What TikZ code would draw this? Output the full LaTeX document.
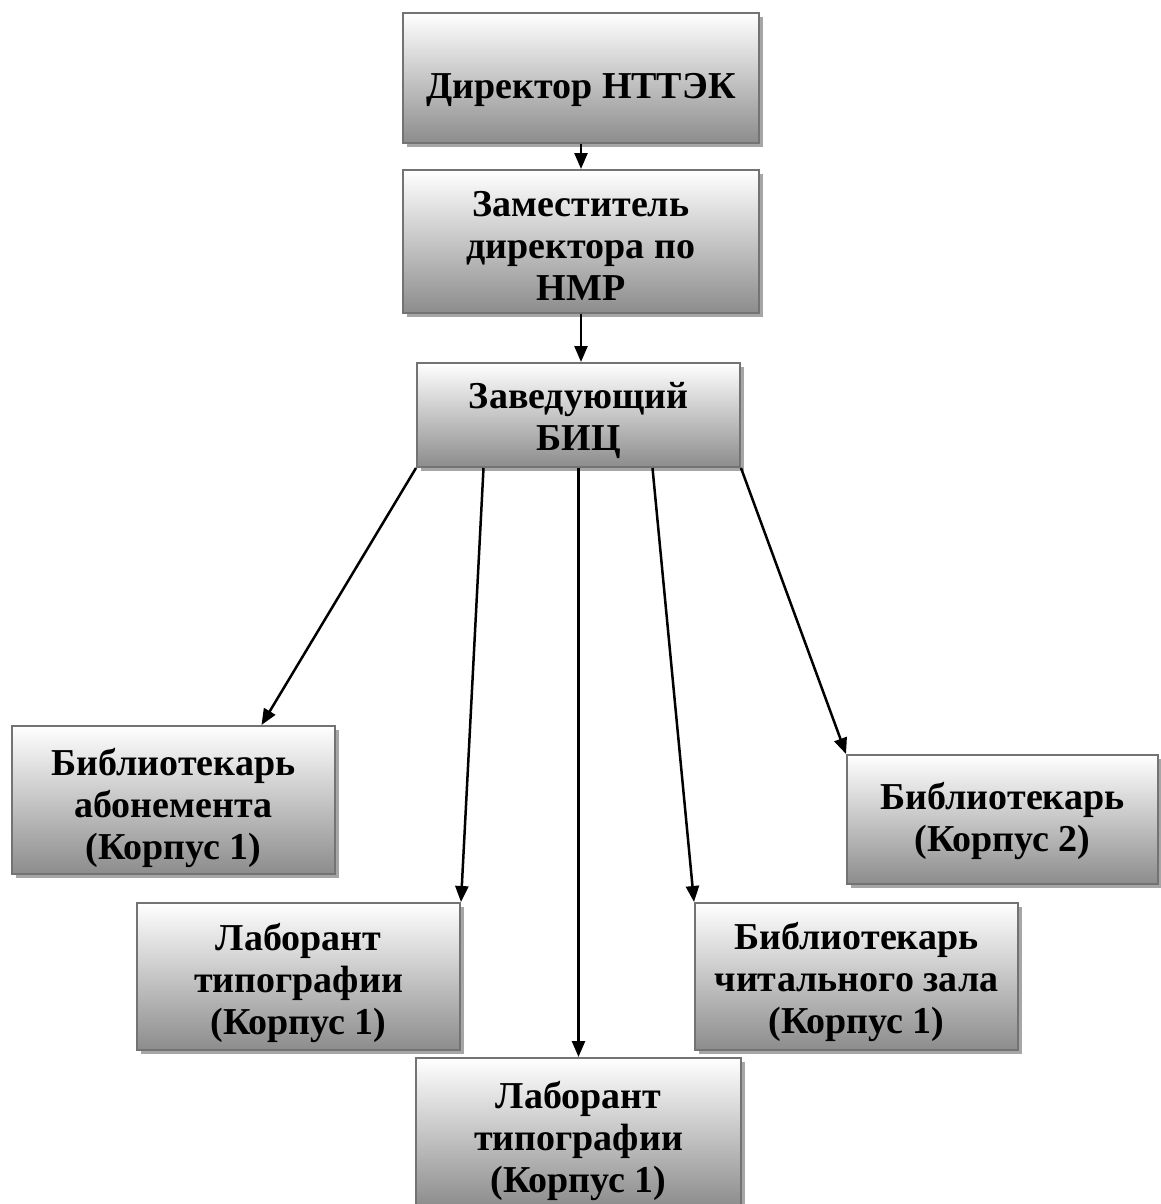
\documentclass[tikz,border=0pt]{standalone}
\usepackage{fontspec}
\setmainfont{Liberation Serif}
\usetikzlibrary{arrows.meta,shadows}
\tikzset{
  box/.style={draw=black!55, line width=2pt, top color=white, bottom color=black!45,
    drop shadow={shadow xshift=4pt, shadow yshift=-4pt, fill=black!35, opacity=1},
    inner sep=0pt},
  txt/.style={align=center, inner sep=0pt,
    font=\bfseries\fontsize{38}{42}\selectfont},
  conn/.style={line width=2.5pt, -{Triangle[length=16pt,width=13pt]}}
}
\begin{document}
\begin{tikzpicture}[x=1pt,y=-1pt]
\useasboundingbox (0,0) rectangle (1161,1204);
\node[box, minimum width=356pt, minimum height=130pt] (b1) at (581,78) {};
\node[box, minimum width=356pt, minimum height=143pt] (b2) at (581,241.5) {};
\node[box, minimum width=323pt, minimum height=104pt] (b3) at (578.5,415) {};
\node[box, minimum width=323pt, minimum height=148pt] (b4) at (173.5,800) {};
\node[box, minimum width=323pt, minimum height=147pt] (b5) at (298.5,976.5) {};
\node[box, minimum width=325pt, minimum height=149pt] (b6) at (578.5,1132.5) {};
\node[box, minimum width=323pt, minimum height=147pt] (b7) at (856.5,976.5) {};
\node[box, minimum width=311pt, minimum height=129pt] (b8) at (1002.5,819.5) {};
\node[txt] (t1) at ([yshift=-12pt]b1.center) {Директор НТТЭК};
\node[txt] (t2) at ([yshift=-4pt]b2.center) {Заместитель\\директора по\\НМР};
\node[txt] (t3) at ([yshift=-5pt]b3.center) {Заведующий\\БИЦ};
\node[txt] (t4) at ([yshift=-8pt]b4.center) {Библиотекарь\\абонемента\\(Корпус 1)};
\node[txt] (t5) at ([yshift=-6pt]b5.center) {Лаборант\\типографии\\(Корпус 1)};
\node[txt] (t6) at ([yshift=-8pt]b6.center) {Лаборант\\типографии\\(Корпус 1)};
\node[txt] (t7) at ([yshift=-5pt]b7.center) {Библиотекарь\\читального зала\\(Корпус 1)};
\node[txt] (t8) at ([yshift=-1pt]b8.center) {Библиотекарь\\(Корпус 2)};
\draw[conn] (b1.south) -- (b2.north);
\draw[conn] (b2.south) -- (b2.south |- b3.north);
\draw[conn] (b3.south west) -- ([xshift=88pt]b4.north);
\draw[conn] ([xshift=-95pt]b3.south) -- (b5.north east);
\draw[conn] (b3.south) -- (b6.north);
\draw[conn] ([xshift=74pt]b3.south) -- (b7.north west);
\draw[conn] (b3.south east) -- (b8.north west);
\end{tikzpicture}
\end{document}
